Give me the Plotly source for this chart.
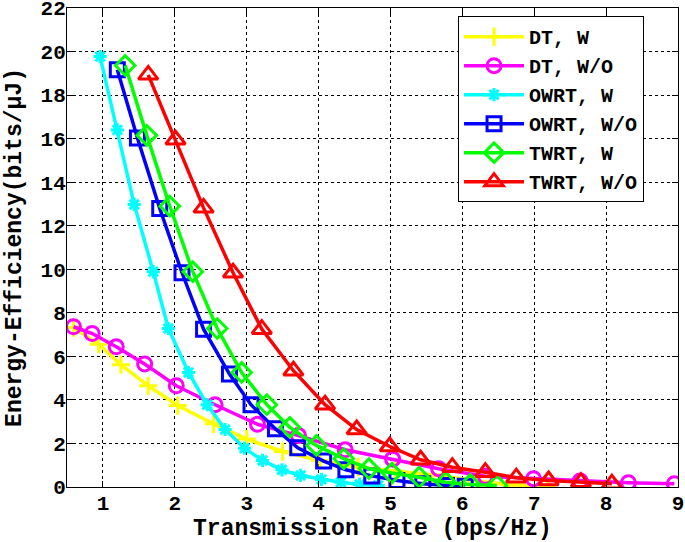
import plotly.graph_objects as go

# ---- data ----
dt_w_x = [0.59, 0.94, 1.25, 1.63, 2.04, 2.54, 3.00, 3.50, 4.02, 4.55, 5.07, 5.58, 6.10, 6.64, 7.18]
dt_w_y = [7.32, 6.56, 5.62, 4.65, 3.74, 2.90, 2.20, 1.63, 1.22, 0.92, 0.72, 0.56, 0.33, 0.10, 0.05]

dt_wo_x = [0.59, 0.85, 1.185, 1.58, 2.02, 2.56, 3.15, 3.72, 4.37, 5.03, 5.67, 6.32, 6.99, 7.64, 8.31, 8.95]
dt_wo_y = [7.36, 7.05, 6.44, 5.65, 4.65, 3.78, 2.88, 2.36, 1.71, 1.28, 0.84, 0.49, 0.38, 0.27, 0.20, 0.15]

owrt_w_x = [0.96, 1.20, 1.435, 1.70, 1.91, 2.19, 2.45, 2.70, 2.97, 3.22, 3.49, 3.75, 4.04, 4.31, 4.57, 4.83]
owrt_w_y = [19.77, 16.4, 12.98, 9.89, 7.28, 5.26, 3.78, 2.64, 1.78, 1.22, 0.79, 0.53, 0.35, 0.22, 0.12, 0.07]

owrt_wo_x = [1.20, 1.48, 1.79, 2.10, 2.40, 2.76, 3.06, 3.40, 3.71, 4.07, 4.38, 4.74, 5.09, 5.45, 5.78, 6.04]
owrt_wo_y = [19.16, 16.03, 12.79, 9.84, 7.25, 5.19, 3.78, 2.67, 1.80, 1.19, 0.79, 0.51, 0.30, 0.15, 0.07, 0.03]

twrt_w_x = [1.31, 1.61, 1.93, 2.25, 2.59, 2.93, 3.28, 3.60, 3.97, 4.35, 4.70, 5.02, 5.40, 5.77, 6.11, 6.48]
twrt_w_y = [19.36, 16.15, 12.9, 9.89, 7.28, 5.26, 3.78, 2.74, 1.91, 1.30, 0.84, 0.64, 0.45, 0.22, 0.12, 0.07]

twrt_wo_x = [1.63, 2.01, 2.40, 2.81, 3.21, 3.65, 4.09, 4.53, 4.99, 5.42, 5.86, 6.32, 6.75, 7.20, 7.65, 8.08]
twrt_wo_y = [18.93, 15.95, 12.82, 9.84, 7.25, 5.34, 3.78, 2.64, 1.86, 1.25, 0.91, 0.68, 0.43, 0.30, 0.22, 0.15]

x_ticks = [1, 2, 3, 4, 5, 6, 7, 8, 9]
y_ticks = [0, 2, 4, 6, 8, 10, 12, 14, 16, 18, 20, 22]

names = ["DT, W", "DT, W/O", "OWRT, W", "OWRT, W/O", "TWRT, W", "TWRT, W/O"]
xs = [dt_w_x, dt_wo_x, owrt_w_x, owrt_wo_x, twrt_w_x, twrt_wo_x]
ys = [dt_w_y, dt_wo_y, owrt_w_y, owrt_wo_y, twrt_w_y, twrt_wo_y]
colors = ["#ffff00", "#ff00ff", "#00ffff", "#0000ff", "#00ff00", "#ff0000"]
symbols = ["cross-thin-open", "circle-open", "asterisk-open", "square-open", "diamond-open", "triangle-up-open"]
msizes = [13, 14, 11, 14, 15, 17]

FONT = "Liberation Mono"

fig = go.Figure()
for n, x, y, c, s, ms in zip(names, xs, ys, colors, symbols, msizes):
    fig.add_trace(go.Scatter(
        x=x, y=y, name=n, mode="lines+markers",
        line=dict(color=c, width=3.5),
        marker=dict(symbol=s, size=ms, color=c, line=dict(color=c, width=3)),
    ))

axis_common = dict(
    showline=True, linecolor="black", linewidth=1, mirror="ticks",
    ticks="inside", ticklen=6, tickcolor="black",
    showgrid=True, gridcolor="black", griddash="dot", gridwidth=1,
    zeroline=False, automargin=False, ticklabeloverflow="allow",
    tickfont=dict(family=FONT, size=21, color="black", weight="bold"),
)

fig.update_layout(
    width=685, height=542,
    margin=dict(l=67, r=7, t=8, b=55),
    plot_bgcolor="white", paper_bgcolor="white",
    xaxis=dict(range=[0.5, 9.0001], tickvals=x_ticks,
               ticklabelstandoff=-3,
               title=dict(text="Transmission Rate (bps/Hz)", standoff=0,
                          font=dict(family=FONT, size=23, color="black", weight="bold")),
               **axis_common),
    yaxis=dict(range=[0, 22.0001], tickvals=y_ticks,
               ticklabelstandoff=-4,
               title=dict(text="Energy-Efficiency(bits/μJ)", standoff=12,
                          font=dict(family=FONT, size=23, color="black", weight="bold")),
               **axis_common),
    legend=dict(x=0.64, y=0.983, xanchor="left", yanchor="top",
                bgcolor="white", bordercolor="black", borderwidth=1,
                font=dict(family=FONT, size=20, color="black", weight="bold"),
                itemwidth=60, tracegroupgap=0),
    showlegend=True,
)

fig.write_html("out.html", config={"displayModeBar": False},
               post_script="document.body.style.margin='0';document.body.style.overflow='hidden';")
